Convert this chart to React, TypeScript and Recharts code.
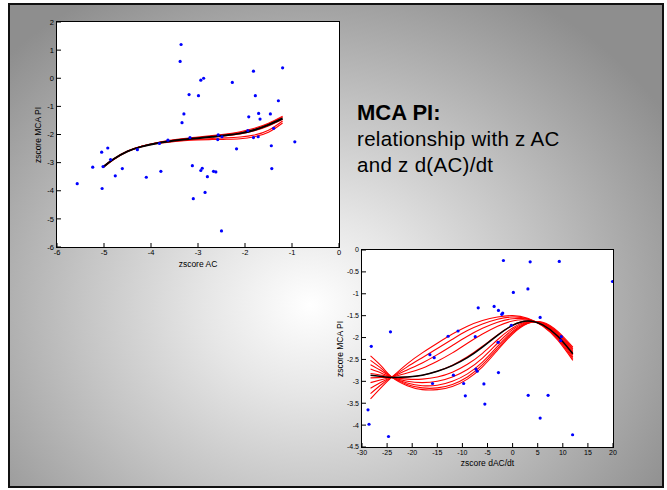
import React from "react";
import { ComposedChart, Scatter, Line, XAxis, YAxis } from "recharts";

// top plot: zscore AC vs zscore MCA PI
const acTicks = [-6, -5, -4, -3, -2, -1, 0];
const acPiTicks = [-6, -5, -4, -3, -2, -1, 0, 1, 2];
const acDotX = [
  -3.36, -3.38, -2.88, -2.94, -2.27, -1.82, -1.2, -3.19, -2.99, -1.78, -1.29, -3.3, -3.34,
  -1.71, -1.46, -1.92, -1.68, -1.94, -1.39, -3.17, -3.12, -2.57, -2.58, -2.49, -1.82, -1.72,
  -2.18, -1.44, -0.94, -3.64, -3.82, -4.29, -5.05, -4.92, -4.86, -5.24, -5.02, -4.61, -4.76,
  -4.1, -3.79, -5.57, -5.04, -2.91, -2.94, -2.8, -2.67, -2.62, -3.1, -2.85, -2.5, -1.43,
];
const acDotY = [
  1.2, 0.6, 0.0, -0.07, -0.15, 0.25, 0.37, -0.58, -0.62, -0.62, -0.8, -1.27, -1.58,
  -1.25, -1.27, -1.37, -1.45, -1.86, -1.78, -2.11, -3.11, -2.01, -2.18, -2.08, -2.11, -2.08,
  -2.51, -2.4, -2.26, -2.2, -2.32, -2.54, -2.63, -2.48, -2.89, -3.16, -3.14, -3.21, -3.47,
  -3.52, -3.31, -3.75, -3.92, -3.2, -3.28, -3.5, -3.31, -3.33, -4.28, -4.06, -5.43, -3.21,
];
const acCurveX = [-5.02, -4.8, -4.5, -4.2, -3.9, -3.6, -3.3, -3.0, -2.7, -2.4, -2.1, -1.8, -1.5, -1.2];
const acFitMean = [-3.16, -2.88, -2.6, -2.43, -2.32, -2.24, -2.18, -2.13, -2.08, -2.03, -1.96, -1.84, -1.66, -1.43];
const acFitBoot = [
  [-3.18, -2.9, -2.6, -2.42, -2.3, -2.21, -2.14, -2.09, -2.04, -1.98, -1.9, -1.78, -1.6, -1.35],
  [-3.17, -2.89, -2.6, -2.42, -2.3, -2.22, -2.16, -2.11, -2.06, -2.0, -1.93, -1.81, -1.63, -1.39],
  [-3.14, -2.87, -2.59, -2.42, -2.31, -2.23, -2.17, -2.13, -2.09, -2.04, -1.98, -1.87, -1.7, -1.46],
  [-3.15, -2.88, -2.6, -2.43, -2.32, -2.25, -2.2, -2.17, -2.14, -2.12, -2.09, -2.02, -1.85, -1.52],
  [-3.15, -2.88, -2.6, -2.43, -2.33, -2.27, -2.22, -2.19, -2.18, -2.17, -2.15, -2.08, -1.92, -1.59],
];

// bottom plot: zscore dAC/dt vs zscore MCA PI
const dacTicks = [-30, -25, -20, -15, -10, -5, 0, 5, 10, 15, 20];
const dacPiTicks = [0, -0.5, -1, -1.5, -2, -2.5, -3, -3.5, -4, -4.5];
const dacDotX = [
  -1.83, 3.5, 9.3, 19.9, 0.15, 3.05, -6.85, -3.68, -2.82, -1.97, -2.16, 5.49, -0.25,
  -24.33, -28.15, -12.85, -10.87, -7.44, -2.89, 9.58, 9.7, -16.48, -15.62, -7.31, -7.05,
  -2.82, -11.79, -15.95, -9.75, -5.72, -9.42, 3.11, 7.07, -5.53, -28.8, -28.6, 5.49, -24.72, 11.95,
];
const dacDotY = [
  -0.24, -0.27, -0.26, -0.72, -0.97, -0.89, -1.32, -1.29, -1.38, -1.44, -1.47, -1.54, -1.72,
  -1.87, -2.2, -1.97, -1.85, -1.98, -2.11, -2.07, -1.98, -2.39, -2.46, -2.72, -2.77,
  -2.8, -2.86, -3.05, -3.05, -3.06, -3.33, -3.32, -3.32, -3.52, -3.65, -3.98, -3.84, -4.26, -4.22,
];
const dacCurveX = [-28.3, -26, -24, -21, -18, -15, -12, -9, -6, -3, 0, 3, 6, 9, 12];
const dacFitMean = [-2.86, -2.89, -2.91, -2.9, -2.86, -2.77, -2.64, -2.46, -2.22, -1.95, -1.72, -1.62, -1.71, -1.97, -2.37];
const dacFitBoot = [
  [-3.4, -3.12, -2.9, -2.6, -2.35, -2.13, -1.92, -1.74, -1.61, -1.53, -1.5, -1.56, -1.74, -2.06, -2.52],
  [-3.28, -3.06, -2.9, -2.67, -2.46, -2.25, -2.04, -1.84, -1.69, -1.58, -1.53, -1.57, -1.73, -2.03, -2.48],
  [-3.16, -3.01, -2.9, -2.74, -2.58, -2.39, -2.18, -1.97, -1.79, -1.65, -1.57, -1.58, -1.72, -2.01, -2.44],
  [-3.03, -2.96, -2.9, -2.81, -2.7, -2.54, -2.35, -2.13, -1.92, -1.74, -1.62, -1.6, -1.71, -1.99, -2.4],
  [-2.92, -2.91, -2.91, -2.9, -2.86, -2.77, -2.63, -2.44, -2.2, -1.94, -1.72, -1.62, -1.7, -1.96, -2.36],
  [-2.82, -2.86, -2.91, -2.95, -2.95, -2.9, -2.79, -2.61, -2.36, -2.05, -1.78, -1.64, -1.69, -1.94, -2.33],
  [-2.72, -2.82, -2.91, -3.0, -3.03, -3.0, -2.9, -2.73, -2.47, -2.13, -1.82, -1.65, -1.68, -1.92, -2.3],
  [-2.62, -2.77, -2.91, -3.04, -3.1, -3.09, -3.0, -2.83, -2.56, -2.2, -1.86, -1.66, -1.67, -1.9, -2.27],
  [-2.52, -2.72, -2.91, -3.07, -3.15, -3.15, -3.07, -2.9, -2.62, -2.25, -1.89, -1.67, -1.66, -1.88, -2.25],
  [-2.42, -2.67, -2.91, -3.1, -3.19, -3.19, -3.12, -2.95, -2.67, -2.29, -1.92, -1.68, -1.65, -1.86, -2.22],
];

const FONT = "'Liberation Sans', Arial, sans-serif";

const toPoints = (xs: number[], ys: number[]) => xs.map((x, i) => ({ x, y: ys[i] }));

const BlueDot = (props: any) => (
  <circle cx={props.cx} cy={props.cy} r={1.6} fill="#0000ff" />
);

type PanelProps = {
  left: number;
  top: number;
  width: number;
  height: number;
  margin: { top: number; right: number; bottom: number; left: number };
  xDomain: [number, number];
  yDomain: [number, number];
  xTicks: number[];
  yTicks: number[];
  xLabel: string;
  xLabelOffset: number;
  yLabelX: number;
  tickFont: number;
  curveX: number[];
  mean: number[];
  boot: number[][];
  dotX: number[];
  dotY: number[];
  meanWidth: number;
};

const Panel = (p: PanelProps) => {
  const tickStyle = { fontSize: p.tickFont, fill: "#000", fontFamily: FONT };
  // plot box in page pixels (white fill + frame behind the svg)
  const boxL = p.left + p.margin.left + 30;
  const boxT = p.top + p.margin.top;
  const boxW = p.width - p.margin.left - p.margin.right - 30;
  const boxH = p.height - p.margin.top - p.margin.bottom - 25;
  return (
    <>
      <div
        style={{
          position: "absolute",
          left: boxL - 1,
          top: boxT - 1,
          width: boxW + 2,
          height: boxH + 2,
          boxSizing: "border-box",
          border: "1px solid #000",
          background: "#fff",
        }}
      />
      <div
        style={{
          position: "absolute",
          left: p.yLabelX,
          top: boxT + boxH / 2,
          transform: "translate(-50%, -50%) rotate(-90deg)",
          whiteSpace: "nowrap",
          fontFamily: FONT,
          fontSize: 8.5,
          lineHeight: 1,
          color: "#000",
        }}
      >
        zscore MCA PI
      </div>
      <div style={{ position: "absolute", left: p.left, top: p.top }}>
        <ComposedChart width={p.width} height={p.height} margin={p.margin}>
          <XAxis
            dataKey="x"
            type="number"
            domain={p.xDomain}
            ticks={p.xTicks}
            interval={0}
            allowDataOverflow
            height={25}
            axisLine={false}
            tickLine={{ stroke: "#000" }}
            tickSize={-4}
            tickMargin={7}
            tick={tickStyle}
            label={{ value: p.xLabel, position: "insideBottom", offset: p.xLabelOffset, style: { fontSize: 8.5, fill: "#000", fontFamily: FONT } }}
          />
          <XAxis
            xAxisId="top"
            orientation="top"
            dataKey="x"
            type="number"
            domain={p.xDomain}
            ticks={p.xTicks}
            interval={0}
            allowDataOverflow
            height={0}
            axisLine={false}
            tickLine={{ stroke: "#000" }}
            tickSize={-4}
            tick={false}
          />
          <YAxis
            dataKey="y"
            type="number"
            domain={p.yDomain}
            ticks={p.yTicks}
            interval={0}
            allowDataOverflow
            width={30}
            axisLine={false}
            tickLine={{ stroke: "#000" }}
            tickSize={-4}
            tickMargin={7}
            tick={tickStyle}
          />
          <YAxis
            yAxisId="right"
            orientation="right"
            dataKey="y"
            type="number"
            domain={p.yDomain}
            ticks={p.yTicks}
            interval={0}
            allowDataOverflow
            width={0}
            axisLine={false}
            tickLine={{ stroke: "#000" }}
            tickSize={-4}
            tick={false}
          />
          {p.boot.map((ys, i) => (
            <Line
              key={"boot" + i}
              data={toPoints(p.curveX, ys)}
              dataKey="y"
              type="natural"
              stroke="#ff0000"
              strokeWidth={1.1}
              dot={false}
              activeDot={false}
              isAnimationActive={false}
            />
          ))}
          <Line
            data={toPoints(p.curveX, p.mean)}
            dataKey="y"
            type="natural"
            stroke="#000000"
            strokeWidth={p.meanWidth}
            dot={false}
            activeDot={false}
            isAnimationActive={false}
          />
          <Scatter data={toPoints(p.dotX, p.dotY)} dataKey="y" shape={BlueDot} isAnimationActive={false} />
        </ComposedChart>
      </div>
    </>
  );
};

export default function App() {
  return (
    <div style={{ position: "absolute", left: 0, top: 0, width: 667, height: 490, background: "#ffffff", overflow: "hidden" }}>
      <div
        style={{
          position: "absolute",
          left: 8,
          top: 3,
          width: 652,
          height: 481,
          border: "2px solid #111",
          background:
            "radial-gradient(ellipse 420px 360px at 300px 300px, #ffffff 0%, #e6e6e6 25%, #c4c4c4 55%, #a6a6a6 80%, #8e8e8e 100%)",
        }}
      />
      <Panel
        left={0}
        top={0}
        width={360}
        height={280}
        margin={{ top: 22, right: 21, bottom: 8, left: 27 }}
        xDomain={[-6, 0]}
        yDomain={[-6, 2]}
        xTicks={acTicks}
        yTicks={acPiTicks}
        xLabel="zscore AC"
        xLabelOffset={5}
        yLabelX={38}
        tickFont={7.5}
        curveX={acCurveX}
        mean={acFitMean}
        boot={acFitBoot}
        dotX={acDotX}
        dotY={acDotY}
        meanWidth={2}
      />
      <Panel
        left={330}
        top={235}
        width={300}
        height={240}
        margin={{ top: 15, right: 17, bottom: 3, left: 2 }}
        xDomain={[-30, 20]}
        yDomain={[-4.5, 0]}
        xTicks={dacTicks}
        yTicks={dacPiTicks}
        xLabel="zscore dAC/dt"
        xLabelOffset={6}
        yLabelX={340}
        tickFont={7}
        curveX={dacCurveX}
        mean={dacFitMean}
        boot={dacFitBoot}
        dotX={dacDotX}
        dotY={dacDotY}
        meanWidth={1.5}
      />
      <div style={{ position: "absolute", left: 357, top: 100, fontFamily: FONT, color: "#000" }}>
        <div style={{ fontSize: 22, fontWeight: "bold", lineHeight: "26px" }}>MCA PI:</div>
        <div style={{ fontSize: 20.5, letterSpacing: 0.3, lineHeight: "26px" }}>relationship with z AC</div>
        <div style={{ fontSize: 20.5, letterSpacing: 0.3, lineHeight: "26px" }}>and z d(AC)/dt</div>
      </div>
    </div>
  );
}
